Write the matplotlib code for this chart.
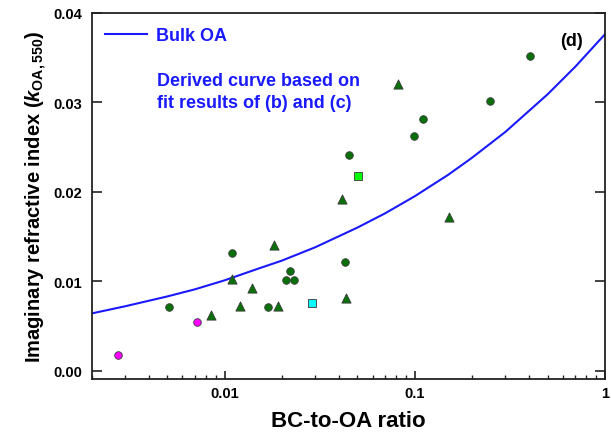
import matplotlib
matplotlib.use("Agg")
import matplotlib.pyplot as plt
from matplotlib.ticker import FixedLocator, LogLocator, NullFormatter, FixedFormatter

plt.rcParams['font.family'] = ['Liberation Sans', 'DejaVu Sans']
plt.rcParams['font.weight'] = 'bold'
plt.rcParams['mathtext.fontset'] = 'custom'
plt.rcParams['mathtext.rm'] = 'Liberation Sans:bold'
plt.rcParams['mathtext.bf'] = 'Liberation Sans:bold'
plt.rcParams['mathtext.it'] = 'Liberation Sans:bold:italic'

# Bulk OA derived curve
curve_x = [0.002, 0.003, 0.005, 0.007, 0.01, 0.015, 0.02, 0.03, 0.05, 0.07,
           0.1, 0.15, 0.2, 0.3, 0.5, 0.7, 1.0]
curve_y = [0.0064, 0.0072, 0.0083, 0.0091, 0.0101, 0.0114, 0.0123, 0.0138, 0.0160, 0.0176,
           0.0195, 0.0219, 0.0238, 0.0267, 0.0309, 0.0340, 0.0376]

# dark green circles
circ_x = [0.00509, 0.0110, 0.0170, 0.0210, 0.0221, 0.0231, 0.0430, 0.0451, 0.0996, 0.110, 0.249, 0.406]
circ_y = [0.0071, 0.0131, 0.0071, 0.0101, 0.0111, 0.0101, 0.0121, 0.0241, 0.0262, 0.0281, 0.0301, 0.0352]

# dark green triangles
tri_x = [0.00849, 0.0110, 0.0121, 0.0140, 0.0182, 0.0191, 0.0413, 0.0434, 0.0818, 0.151]
tri_y = [0.0062, 0.0102, 0.0072, 0.0092, 0.0141, 0.0072, 0.0192, 0.0081, 0.0321, 0.0172]

# magenta circles
mag_x = [0.00275, 0.00718]
mag_y = [0.0018, 0.0054]

# cyan square
cyan_x = [0.0289]
cyan_y = [0.0076]

# lime square
lime_x = [0.0502]
lime_y = [0.0218]

y_ticks = [0.00, 0.01, 0.02, 0.03, 0.04]
y_labels = ['0.00', '0.01', '0.02', '0.03', '0.04']
x_ticks = [0.01, 0.1, 1]
x_labels = ['0.01', '0.1', '1']

fig = plt.figure(figsize=(6.11, 4.39), dpi=100)
ax = fig.add_axes([0.150, 0.1344, 0.840, 0.834])

blue = '#1a1aff'
green = '#0a700a'
edge = '#3a3a3a'

line, = ax.plot(curve_x, curve_y, color=blue, lw=1.5, zorder=2, label='Bulk OA')
ax.scatter(circ_x, circ_y, s=30, marker='o', c=green, edgecolors=edge, linewidths=0.6, zorder=3)
ax.scatter(tri_x, tri_y, s=44, marker='^', c=green, edgecolors=edge, linewidths=0.6, zorder=3)
ax.scatter(mag_x, mag_y, s=30, marker='o', c='#ff00ff', edgecolors=edge, linewidths=0.6, zorder=3)
ax.scatter(cyan_x, cyan_y, s=32, marker='s', c='#00ffff', edgecolors=edge, linewidths=0.6, zorder=3)
ax.scatter(lime_x, lime_y, s=32, marker='s', c='#00ff00', edgecolors=edge, linewidths=0.6, zorder=3)

ax.set_xscale('log')
ax.set_xlim(0.002, 1.0)
ax.set_ylim(-0.00093, 0.04)

ax.xaxis.set_major_locator(FixedLocator(x_ticks))
ax.xaxis.set_major_formatter(FixedFormatter(x_labels))
ax.xaxis.set_minor_locator(LogLocator(base=10, subs=range(2, 10)))
ax.xaxis.set_minor_formatter(NullFormatter())
ax.yaxis.set_major_locator(FixedLocator(y_ticks))
ax.yaxis.set_major_formatter(FixedFormatter(y_labels))

for s in ax.spines.values():
    s.set_color('#222222')
    s.set_linewidth(1.3)

ax.tick_params(axis='y', which='major', direction='in', length=7, width=1.2, color='#222222',
               left=True, right=True, labelsize=10.5, pad=7)
ax.tick_params(axis='x', which='major', direction='in', length=6, width=1.2, color='#222222',
               top=False, labelsize=10.5, pad=5)
ax.tick_params(axis='x', which='minor', direction='in', length=3, width=1.0, color='#222222', top=False)

ax.set_xlabel('BC-to-OA ratio', fontsize=16, fontweight='bold', labelpad=7)
ax.set_ylabel(r'Imaginary refractive index ($k_{\mathrm{OA,550}}$)', fontsize=14.5, fontweight='bold', labelpad=3)

leg = ax.legend(handles=[line], loc='center left', bbox_to_anchor=(0.026, 0.938), frameon=False,
                fontsize=13, handlelength=2.3, handletextpad=0.55, borderpad=0, borderaxespad=0)
for t in leg.get_texts():
    t.set_color(blue)
    t.set_fontweight('bold')

ax.text(0.127, 0.785, 'Derived curve based on\nfit results of (b) and (c)', transform=ax.transAxes,
        color=blue, fontsize=13, fontweight='bold', ha='left', va='center', linespacing=1.35)
ax.text(0.957, 0.924, '(d)', transform=ax.transAxes, color='black', fontsize=13, fontweight='bold',
        ha='right', va='center')

fig.savefig('out.png', dpi=100)
